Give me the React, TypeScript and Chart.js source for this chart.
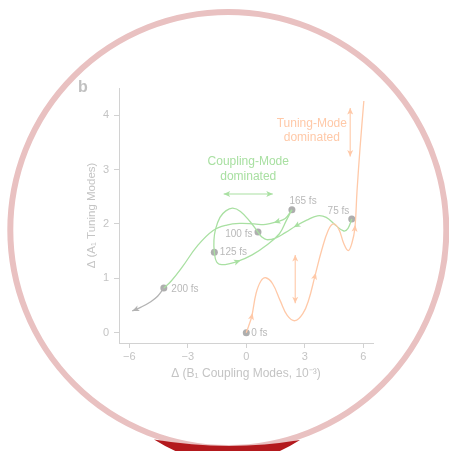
import React, { useEffect, useRef } from 'react';
import { Chart, registerables } from 'chart.js';

Chart.register(...registerables);

// ---------- data ----------
const xTicks = [-6, -3, 0, 3, 6];
const yTicks = [0, 1, 2, 3, 4];
const xMin = -6.53;
const xMax = 6.5;
const yMin = -0.19;
const yMax = 4.5;

// Tuning-mode dominated trajectory (0 fs -> up)
const tuningX = [0, 0.12, 0.28, 0.5, 0.75, 1.0, 1.35, 1.75, 2.1, 2.5, 2.9, 3.2, 3.52, 3.87, 4.2, 4.47, 4.75, 5.0, 5.23, 5.42, 5.57, 5.68, 5.84, 6.03];
const tuningY = [0, 0.12, 0.3, 0.72, 0.95, 1.01, 0.9, 0.58, 0.32, 0.22, 0.35, 0.6, 1.04, 1.52, 1.88, 2.0, 1.9, 1.64, 1.51, 1.65, 1.92, 2.6, 3.42, 4.26];
const tuningArrows = [2, 12, 20];

// Coupling-mode trajectory, 75 fs -> 165 fs
const couplingAX = [5.41, 5.22, 5.0, 4.6, 4.1, 3.65, 3.1, 2.58, 2.0, 1.5, 1.05, 0.8, 0.6, 0.2, -0.3, -0.7, -1.05, -1.35, -1.58, -1.66, -1.64, -1.52, -1.25, -0.45, 0.3, 1.0, 1.7, 2.05, 2.34];
const couplingAY = [2.09, 1.92, 1.87, 1.97, 2.12, 2.15, 2.07, 1.97, 1.84, 1.74, 1.71, 1.76, 1.85, 2.04, 2.23, 2.29, 2.24, 2.12, 1.9, 1.7, 1.48, 1.3, 1.25, 1.31, 1.43, 1.6, 1.82, 2.06, 2.26];
const couplingAArrows = [7, 23];

// Coupling-mode trajectory, 165 fs -> 200 fs
const couplingBX = [2.34, 2.0, 1.57, 1.0, 0.4, -0.3, -1.0, -1.7, -2.5, -3.3, -3.85, -4.23];
const couplingBY = [2.26, 2.1, 2.04, 1.99, 2.0, 2.01, 1.98, 1.88, 1.6, 1.2, 0.95, 0.82];
const couplingBArrows = [2];

// Tail after 200 fs
const tailX = [-4.23, -4.55, -4.9, -5.4, -5.85];
const tailY = [0.82, 0.67, 0.57, 0.47, 0.4];

// Double-headed arrows
const couplingSpanX = [-1.16, 1.36];
const couplingSpanY = [2.55, 2.55];
const tuningSpan1X = [2.51, 2.51];
const tuningSpan1Y = [0.54, 1.43];
const tuningSpan2X = [5.33, 5.33];
const tuningSpan2Y = [3.24, 4.13];

// Time stamps
const timeLabels = ['0 fs', '75 fs', '100 fs', '125 fs', '165 fs', '200 fs'];
const timeX = [0, 5.41, 0.6, -1.64, 2.34, -4.23];
const timeY = [0, 2.09, 1.85, 1.48, 2.26, 0.82];

// Region annotations
const tuningNote = ['Tuning-Mode', 'dominated'];
const tuningNoteX = 3.36;
const tuningNoteY = [3.85, 3.58];
const couplingNote = ['Coupling-Mode', 'dominated'];
const couplingNoteX = 0.1;
const couplingNoteY = [3.14, 2.87];

const xTitle = 'Δ (B₁ Coupling Modes, 10⁻³)';
const yTitle = 'Δ (A₁ Tuning Modes)';
const panelLabel = 'b';

// ---------- styles ----------
const FONT = "'Liberation Sans', Arial, Helvetica, sans-serif";
const ORANGE = '#ffc9a8';
const GREEN = '#a9e0a2';
const GRAYLINE = '#b3b3b3';
const AXIS = '#d2d2d2';
const TICKTXT = '#c4c4c4';
const LABELTXT = '#b9b9b9';
const DOT = '#aeaeae';
const RING = '#e9c1c1';
const DARKRED = '#b3191d';

// label placement style: [align, dx, dy]
const timeLabelStyle: [CanvasTextAlign, number, number][] = [
  ['left', 5, 0.5],
  ['right', -2.5, -7.5],
  ['right', -5.5, 1.8],
  ['left', 5.5, 0.5],
  ['left', -2.5, -8.3],
  ['left', 7.5, 1.2],
];

const pts = (xs: number[], ys: number[]) => xs.map((x, i) => ({ x, y: ys[i] }));

function arrowHead(ctx: CanvasRenderingContext2D, tx: number, ty: number, dx: number, dy: number, color: string, len = 7, half = 3) {
  const l = Math.hypot(dx, dy) || 1;
  const ux = dx / l, uy = dy / l;
  const bx = tx - ux * len, by = ty - uy * len;
  const nx = tx - ux * len * 0.75, ny = ty - uy * len * 0.75;
  ctx.save();
  ctx.fillStyle = color;
  ctx.beginPath();
  ctx.moveTo(tx, ty);
  ctx.lineTo(bx - uy * half, by + ux * half);
  ctx.lineTo(nx, ny);
  ctx.lineTo(bx + uy * half, by - ux * half);
  ctx.closePath();
  ctx.fill();
  ctx.restore();
}

const decorPlugin = {
  id: 'decor',
  afterDatasetsDraw(chart: any) {
    const ctx: CanvasRenderingContext2D = chart.ctx;
    const xs = chart.scales.x, ys = chart.scales.y;
    const px = (v: number) => xs.getPixelForValue(v);
    const py = (v: number) => ys.getPixelForValue(v);

    // arrowheads along the curves
    const curveArrows: [number, number[], string][] = [
      [0, tuningArrows, ORANGE],
      [1, couplingAArrows, GREEN],
      [2, couplingBArrows, GREEN],
    ];
    curveArrows.forEach(([di, idxs, color]) => {
      const meta = chart.getDatasetMeta(di);
      idxs.forEach((i) => {
        const el = meta.data[i];
        let dx = el.cp2x - el.cp1x, dy = el.cp2y - el.cp1y;
        if (!isFinite(dx) || Math.hypot(dx, dy) < 0.01) {
          const a = meta.data[i - 1], b = meta.data[i + 1];
          dx = b.x - a.x; dy = b.y - a.y;
        }
        const l = Math.hypot(dx, dy) || 1;
        arrowHead(ctx, el.x + (dx / l) * 3.5, el.y + (dy / l) * 3.5, dx, dy, color);
      });
    });
    // tail end arrow
    {
      const meta = chart.getDatasetMeta(3);
      const n = meta.data.length;
      const a = meta.data[n - 2], b = meta.data[n - 1];
      arrowHead(ctx, b.x, b.y, b.x - a.x, b.y - a.y, GRAYLINE);
    }
    // double-headed arrows
    [[4, GREEN], [5, ORANGE], [6, ORANGE]].forEach(([di, color]: any) => {
      const meta = chart.getDatasetMeta(di);
      const a = meta.data[0], b = meta.data[1];
      arrowHead(ctx, b.x, b.y, b.x - a.x, b.y - a.y, color, 6.5, 3);
      arrowHead(ctx, a.x, a.y, a.x - b.x, a.y - b.y, color, 6.5, 3);
    });

    // time labels
    ctx.save();
    ctx.font = `10px ${FONT}`;
    ctx.fillStyle = LABELTXT;
    ctx.textBaseline = 'middle';
    timeLabels.forEach((t, i) => {
      const [al, dx, dy] = timeLabelStyle[i];
      ctx.textAlign = al;
      ctx.fillText(t, px(timeX[i]) + dx, py(timeY[i]) + dy);
    });
    // notes
    ctx.font = `12px ${FONT}`;
    ctx.textAlign = 'center';
    ctx.fillStyle = ORANGE;
    tuningNote.forEach((t, i) => ctx.fillText(t, px(tuningNoteX), py(tuningNoteY[i])));
    ctx.fillStyle = GREEN;
    couplingNote.forEach((t, i) => ctx.fillText(t, px(couplingNoteX), py(couplingNoteY[i])));

    // axis titles
    const ca = chart.chartArea;
    ctx.fillStyle = TICKTXT;
    ctx.font = `12px ${FONT}`;
    ctx.fillText(xTitle, (ca.left + ca.right) / 2, ca.bottom + 30.5);
    ctx.save();
    ctx.translate(ca.left - 27.5, (ca.top + ca.bottom) / 2);
    ctx.rotate(-Math.PI / 2);
    ctx.font = `11.5px ${FONT}`;
    ctx.fillText(yTitle, 0, 0);
    ctx.restore();

    // panel label
    ctx.font = `bold 16px ${FONT}`;
    ctx.textAlign = 'left';
    ctx.textBaseline = 'alphabetic';
    ctx.fillStyle = '#c0c0c0';
    ctx.fillText(panelLabel, ca.left - 41, ca.top + 3.5);
    ctx.restore();
  },
  afterDraw(chart: any) {
    const ctx: CanvasRenderingContext2D = chart.ctx;
    ctx.save();
    // pink ring
    ctx.strokeStyle = RING;
    ctx.lineWidth = 6;
    ctx.beginPath();
    ctx.arc(228.3, 230, 218, 0, Math.PI * 2);
    ctx.stroke();
    // dark red band over the bottom of the ring (tapered ends)
    ctx.fillStyle = DARKRED;
    ctx.beginPath();
    ctx.moveTo(154, 439.5);
    ctx.quadraticCurveTo(228, 452, 300, 440);
    ctx.quadraticCurveTo(228, 486, 154, 439.5);
    ctx.closePath();
    ctx.fill();
    ctx.restore();
  },
};

const lineDs = (data: any[], color: string, tension = 0.4, width = 1.3) => ({
  data,
  showLine: true,
  borderColor: color,
  backgroundColor: color,
  borderWidth: width,
  pointRadius: 0,
  tension,
  fill: false,
});

export default function App() {
  const ref = useRef<HTMLCanvasElement>(null);
  useEffect(() => {
    if (!ref.current) return;
    Chart.defaults.font.family = FONT;
    const chart = new Chart(ref.current, {
      type: 'scatter',
      data: {
        datasets: [
          lineDs(pts(tuningX, tuningY), ORANGE),
          lineDs(pts(couplingAX, couplingAY), GREEN),
          lineDs(pts(couplingBX, couplingBY), GREEN),
          lineDs(pts(tailX, tailY), GRAYLINE),
          lineDs(pts(couplingSpanX, couplingSpanY), GREEN, 0, 1.1),
          lineDs(pts(tuningSpan1X, tuningSpan1Y), ORANGE, 0, 1.1),
          lineDs(pts(tuningSpan2X, tuningSpan2Y), ORANGE, 0, 1.1),
          {
            data: pts(timeX, timeY),
            pointRadius: 3.5,
            pointBackgroundColor: DOT,
            pointBorderWidth: 0,
            showLine: false,
          } as any,
        ],
      },
      options: {
        responsive: false,
        animation: false,
        devicePixelRatio: 1,
        events: [],
        layout: { padding: { left: 0, top: 88, right: 76, bottom: 0 } },
        plugins: { legend: { display: false }, tooltip: { enabled: false } },
        scales: {
          x: {
            type: 'linear',
            min: xMin,
            max: xMax,
            afterBuildTicks: (s: any) => { s.ticks = xTicks.map((v) => ({ value: v })); },
            afterFit: (s: any) => { s.height = 108; },
            grid: { drawOnChartArea: false, drawTicks: true, tickLength: 5, color: AXIS },
            border: { display: true, color: AXIS, width: 1 },
            ticks: {
              color: TICKTXT,
              font: { size: 11, family: FONT },
              padding: 2,
              maxRotation: 0,
              callback: (v: any) => (v < 0 ? '\u2212' + Math.abs(v) : String(v)),
            },
          },
          y: {
            type: 'linear',
            min: yMin,
            max: yMax,
            afterBuildTicks: (s: any) => { s.ticks = yTicks.map((v) => ({ value: v })); },
            afterFit: (s: any) => { s.width = 119; },
            grid: { drawOnChartArea: false, drawTicks: true, tickLength: 5, color: AXIS },
            border: { display: true, color: AXIS, width: 1 },
            ticks: {
              color: TICKTXT,
              font: { size: 11, family: FONT },
              padding: 5,
              callback: (v: any) => String(v),
            },
          },
        },
      } as any,
      plugins: [decorPlugin],
    });
    return () => chart.destroy();
  }, []);
  return (
    <div style={{ position: 'absolute', left: 0, top: 0, width: 449, height: 451, background: '#fff' }}>
      <canvas ref={ref} width={449} height={451} style={{ display: 'block' }} />
    </div>
  );
}
